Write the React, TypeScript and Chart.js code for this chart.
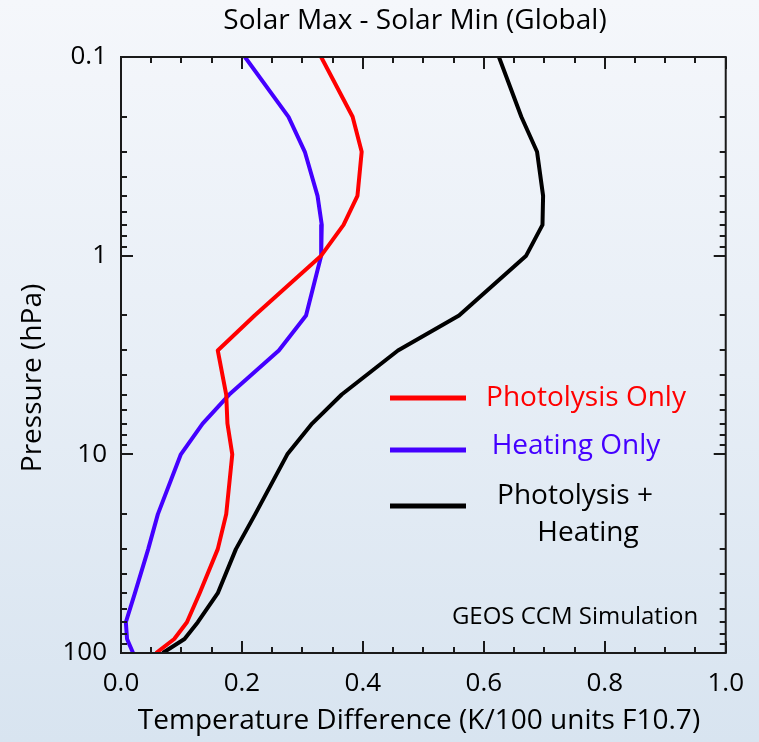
import { useEffect, useRef } from 'react';
import { Chart, registerables } from 'chart.js';

Chart.register(...registerables);

// Pressure levels (hPa)
const pressureLevels = [0.1, 0.2, 0.3, 0.5, 0.7, 1, 2, 3, 5, 7, 10, 20, 30, 50, 70, 85, 100];

// Temperature difference (K / 100 units F10.7)
const photolysisOnly = [0.331, 0.383, 0.398, 0.391, 0.368, 0.331, 0.221, 0.160, 0.174, 0.176, 0.184, 0.174, 0.160, 0.130, 0.109, 0.088, 0.058];
const heatingOnly = [0.205, 0.277, 0.304, 0.325, 0.332, 0.331, 0.306, 0.261, 0.179, 0.135, 0.099, 0.061, 0.045, 0.023, 0.008, 0.010, 0.020];
const photolysisHeating = [0.625, 0.662, 0.688, 0.698, 0.697, 0.670, 0.559, 0.458, 0.365, 0.316, 0.275, 0.222, 0.190, 0.160, 0.127, 0.105, 0.069];

const seriesLabels = ['Photolysis Only', 'Heating Only', 'Photolysis + Heating'];
const seriesColors = ['#ff0000', '#4400ff', '#000000'];

const xTickValues = [0, 0.05, 0.1, 0.15, 0.2, 0.25, 0.3, 0.35, 0.4, 0.45, 0.5, 0.55, 0.6, 0.65, 0.7, 0.75, 0.8, 0.85, 0.9, 0.95, 1.0];
const xMajorValues = [0, 0.2, 0.4, 0.6, 0.8, 1.0];
const xTickLabels = ['0.0', '0.2', '0.4', '0.6', '0.8', '1.0'];

const yTickValues = [0.1, 0.2, 0.3, 0.4, 0.5, 0.6, 0.7, 0.8, 0.9, 1, 2, 3, 4, 5, 6, 7, 8, 9, 10, 20, 30, 40, 50, 60, 70, 80, 90, 100];
const yMajorValues = [0.1, 1, 10, 100];
const yTickLabels = ['0.1', '1', '10', '100'];

const FONT = '"Open Sans", "Noto Sans", sans-serif';

function labelFor(value: number, majors: number[], labels: string[]) {
  for (let i = 0; i < majors.length; i++) {
    if (Math.abs(majors[i] - value) < 1e-9 * Math.max(1, Math.abs(value))) return labels[i];
  }
  return '';
}

const decorPlugin = {
  id: 'decor',
  beforeDraw(chart: any) {
    const { ctx, width, height } = chart;
    const g = ctx.createLinearGradient(0, 0, 0, height);
    g.addColorStop(0, '#f5f7fb');
    g.addColorStop(0.5, '#e7eef6');
    g.addColorStop(1, '#d8e4f0');
    ctx.save();
    ctx.fillStyle = g;
    ctx.fillRect(0, 0, width, height);
    ctx.restore();
  },
  afterDraw(chart: any) {
    const { ctx, chartArea } = chart;
    const { left, right, top, bottom } = chartArea;
    const xs = chart.scales.x;
    const ys = chart.scales.y;
    ctx.save();
    ctx.strokeStyle = '#1a1a1a';
    ctx.lineWidth = 2;
    ctx.strokeRect(left, top, right - left, bottom - top);
    ctx.beginPath();
    xs.ticks.forEach((t: any) => {
      const px = Math.round(xs.getPixelForValue(t.value));
      const len = labelFor(t.value, xMajorValues, xTickLabels) ? 12 : 6;
      ctx.moveTo(px, bottom);
      ctx.lineTo(px, bottom - len);
      ctx.moveTo(px, top);
      ctx.lineTo(px, top + len);
    });
    ys.ticks.forEach((t: any) => {
      const py = Math.round(ys.getPixelForValue(t.value));
      const len = labelFor(t.value, yMajorValues, yTickLabels) ? 12 : 6;
      ctx.moveTo(left, py);
      ctx.lineTo(left + len, py);
      ctx.moveTo(right, py);
      ctx.lineTo(right - len, py);
    });
    ctx.stroke();

    // Title and axis titles
    ctx.fillStyle = '#000';
    ctx.textBaseline = 'middle';
    ctx.textAlign = 'center';
    ctx.font = `28px ${FONT}`;
    ctx.fillText('Solar Max - Solar Min (Global)', 415, 21);
    ctx.fillText('Temperature Difference (K/100 units F10.7)', 419, 721);
    ctx.save();
    ctx.translate(33, 378);
    ctx.rotate(-Math.PI / 2);
    ctx.fillText('Pressure (hPa)', 0, 0);
    ctx.restore();

    // Legend
    const legendY = [398, 450, 506];
    chart.data.datasets.forEach((ds: any, i: number) => {
      ctx.strokeStyle = ds.borderColor;
      ctx.lineWidth = 5;
      ctx.beginPath();
      ctx.moveTo(390, legendY[i]);
      ctx.lineTo(466, legendY[i]);
      ctx.stroke();
    });
    ctx.font = `28px ${FONT}`;
    ctx.fillStyle = seriesColors[0];
    ctx.fillText(seriesLabels[0], 586, 398);
    ctx.fillStyle = seriesColors[1];
    ctx.fillText(seriesLabels[1], 576, 446);
    ctx.fillStyle = seriesColors[2];
    ctx.fillText('Photolysis +', 575, 496);
    ctx.fillText('Heating', 588, 533);

    ctx.font = `24px ${FONT}`;
    ctx.fillText('GEOS CCM Simulation', 575, 617);
    ctx.restore();
  },
};

export default function App() {
  const canvasRef = useRef<HTMLCanvasElement | null>(null);

  useEffect(() => {
    if (!canvasRef.current) return;
    const mk = (vals: number[]) => pressureLevels.map((p, i) => ({ x: vals[i], y: p }));
    const chart = new Chart(canvasRef.current, {
      type: 'line',
      data: {
        datasets: [
          { label: seriesLabels[0], data: mk(photolysisOnly), borderColor: seriesColors[0] },
          { label: seriesLabels[1], data: mk(heatingOnly), borderColor: seriesColors[1] },
          { label: seriesLabels[2], data: mk(photolysisHeating), borderColor: seriesColors[2] },
        ].map((d) => ({
          ...d,
          borderWidth: 4,
          pointRadius: 0,
          tension: 0,
          fill: false,
          borderJoinStyle: 'round' as const,
          borderCapStyle: 'butt' as const,
        })),
      },
      options: {
        responsive: false,
        animation: false,
        devicePixelRatio: 1,
        layout: { padding: { left: 0, right: 29, top: 57, bottom: 0 } },
        plugins: { legend: { display: false }, title: { display: false }, tooltip: { enabled: false } },
        scales: {
          x: {
            type: 'linear',
            min: 0,
            max: 1,
            grid: { display: false, drawTicks: false },
            border: { display: false },
            afterBuildTicks: (scale: any) => {
              scale.ticks = xTickValues.map((v) => ({ value: v }));
            },
            afterFit: (scale: any) => {
              scale.height = 89;
            },
            ticks: {
              autoSkip: false,
              maxRotation: 0,
              padding: 15,
              color: '#000',
              font: { family: FONT, size: 26 },
              callback: (v: any) => labelFor(Number(v), xMajorValues, xTickLabels),
            },
          },
          y: {
            type: 'logarithmic',
            min: 0.1,
            max: 100,
            reverse: true,
            grid: { display: false, drawTicks: false },
            border: { display: false },
            afterBuildTicks: (scale: any) => {
              scale.ticks = yTickValues.map((v) => ({ value: v }));
            },
            afterFit: (scale: any) => {
              scale.width = 121;
            },
            ticks: {
              autoSkip: false,
              padding: 14,
              color: '#000',
              font: { family: FONT, size: 26 },
              callback: (v: any) => labelFor(Number(v), yMajorValues, yTickLabels),
            },
          },
        },
      },
      plugins: [decorPlugin],
    });
    return () => chart.destroy();
  }, []);

  return (
    <div style={{ position: 'absolute', left: 0, top: 0, width: 759, height: 742 }}>
      <canvas ref={canvasRef} width={759} height={742} style={{ display: 'block', width: 759, height: 742 }} />
    </div>
  );
}
